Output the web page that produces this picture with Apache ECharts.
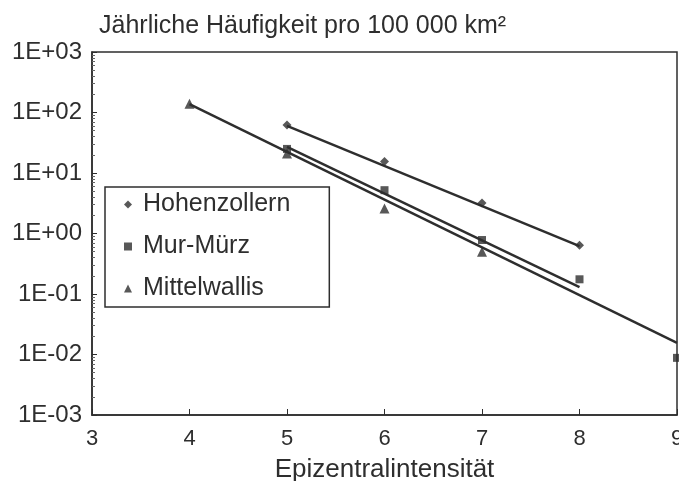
<!DOCTYPE html>
<html lang="de">
<head>
    <meta charset="UTF-8">
    <title>Jährliche Häufigkeit</title>
    <script src="https://cdn.jsdelivr.net/npm/echarts@6/dist/echarts.min.js"></script>
    <style>
        html, body { margin: 0; padding: 0; background: #fff; }
        #chart { width: 679px; height: 481px; }
    </style>
</head>
<body>
<div id="chart"></div>
<script>
    // Messpunkte
    let hohenzollern = [[5, 62], [6, 15.5], [7, 3.2], [8, 0.64]];
    let murMuerz = [[5, 25], [6, 5.2], [7, 0.78], [8, 0.175], [9, 0.0088]];
    let mittelwallis = [[4, 140], [5, 21], [6, 2.6], [7, 0.5]];

    // Ausgleichsgeraden (Endpunkte)
    let fitHohenzollern = [[5, 60], [8, 0.62]];
    let fitMurMuerz = [[5, 27], [8, 0.13]];
    let fitMittelwallis = [[4, 138], [9, 0.0155]];

    let xTicks = [3, 4, 5, 6, 7, 8, 9];
    let yTickLabels = ['1E-03', '1E-02', '1E-01', '1E+00', '1E+01', '1E+02', '1E+03'];

    let ink = '#2e2e2e';
    let font = 'Liberation Sans, Arial, sans-serif';

    let chart = echarts.init(document.getElementById('chart'));

    function fitLine(data) {
        return {
            type: 'line',
            data: data,
            symbol: 'none',
            silent: true,
            lineStyle: {color: ink, width: 2.5},
            z: 1
        };
    }

    let option = {
        animation: false,
        textStyle: {fontFamily: font, color: ink},
        title: {
            text: 'Jährliche Häufigkeit pro 100 000 km²',
            left: 94,
            top: 9,
            textStyle: {fontFamily: font, fontSize: 25, fontWeight: 'normal', color: ink}
        },
        legend: {
            data: ['Hohenzollern', 'Mur-Mürz', 'Mittelwallis'],
            orient: 'vertical',
            left: 105,
            top: 187,
            padding: [5, 39, 6, 19],
            itemGap: 17,
            itemWidth: 8,
            itemHeight: 8,
            borderColor: ink,
            borderWidth: 1.5,
            borderRadius: 0,
            backgroundColor: '#fff',
            textStyle: {fontFamily: font, fontSize: 25, color: ink, padding: [0, 0, 0, 6]}
        },
        grid: {
            left: 92,
            right: 2,
            top: 52,
            bottom: 66,
            outerBoundsMode: 'none',
            show: true,
            borderColor: ink,
            borderWidth: 1.5
        },
        xAxis: {
            type: 'value',
            min: 3,
            max: 9,
            interval: 1,
            name: 'Epizentralintensität',
            nameLocation: 'middle',
            nameGap: 42,
            nameTextStyle: {fontFamily: font, fontSize: 26, color: ink},
            axisLine: {lineStyle: {color: ink, width: 1.5}},
            axisTick: {inside: true, length: 6, lineStyle: {color: ink}},
            axisLabel: {
                fontFamily: font, fontSize: 22, color: ink, margin: 13,
                formatter: function (v) { return xTicks.indexOf(v) >= 0 ? String(v) : ''; }
            },
            splitLine: {show: false}
        },
        yAxis: {
            type: 'log',
            logBase: 10,
            min: 0.001,
            max: 1000,
            axisLine: {show: true, lineStyle: {color: ink, width: 1.5}},
            axisTick: {show: true, inside: true, length: 5, lineStyle: {color: ink}},
            minorTick: {show: true, splitNumber: 9, length: 3, lineStyle: {color: '#666', width: 1}},
            axisLabel: {
                fontFamily: font, fontSize: 24, color: ink, margin: 10,
                padding: [0, 0, 10, 0],
                formatter: function (v) {
                    let i = Math.round(Math.log10(v)) + 3;
                    return yTickLabels[i] || '';
                }
            },
            splitLine: {show: false}
        },
        series: [
            fitLine(fitHohenzollern),
            fitLine(fitMurMuerz),
            fitLine(fitMittelwallis),
            {
                name: 'Hohenzollern',
                type: 'scatter',
                data: hohenzollern,
                symbol: 'diamond',
                symbolSize: 9,
                itemStyle: {color: ink},
                z: 3
            },
            {
                name: 'Mur-Mürz',
                type: 'scatter',
                data: murMuerz,
                symbol: 'rect',
                symbolSize: 8,
                itemStyle: {color: ink},
                z: 3
            },
            {
                name: 'Mittelwallis',
                type: 'scatter',
                data: mittelwallis,
                symbol: 'triangle',
                symbolSize: 10,
                itemStyle: {color: ink},
                z: 3
            }
        ]
    };

    chart.setOption(option);
</script>
</body>
</html>
